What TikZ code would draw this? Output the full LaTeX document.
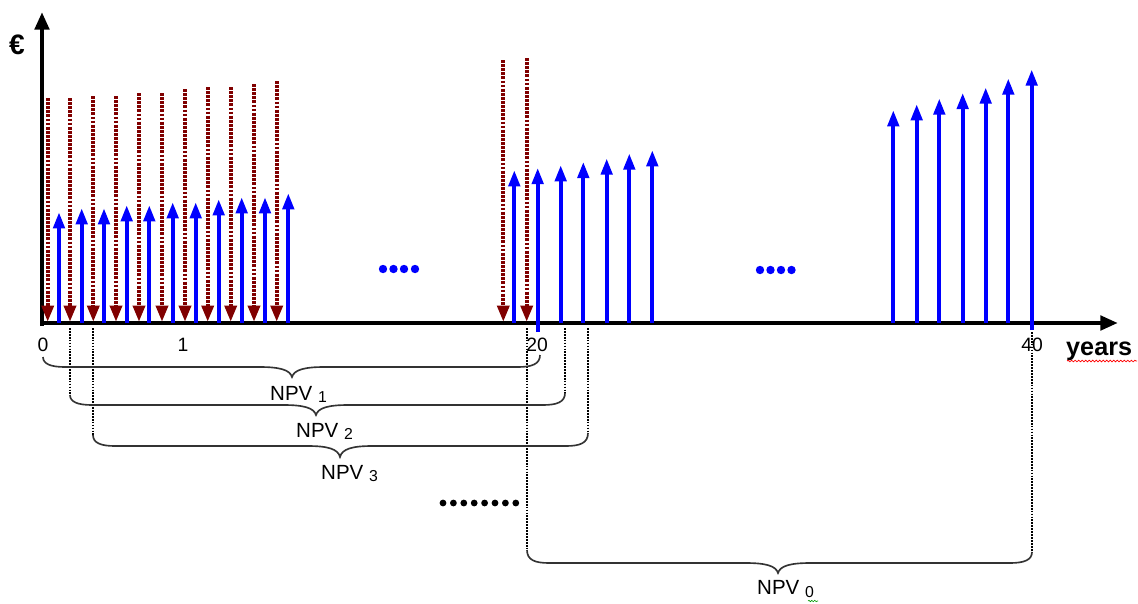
\documentclass[tikz,border=0pt]{standalone}
\usepackage{fontspec}
\setmainfont{Liberation Sans}
\usetikzlibrary{arrows.meta,decorations.pathmorphing}
\definecolor{maroonred}{HTML}{800000}
\definecolor{pureblue}{HTML}{0000FF}
\definecolor{bracegray}{HTML}{333333}
\newcommand\npvbrace[7]{%
  \draw[bracestyle] (#1,#2) .. controls (#1,#3-3) and (#1+8,#3) .. (#1+22,#3)
    -- (#4-32,#3) .. controls (#4-12,#3) and (#4-2,#3+3) .. (#4,#5)
    .. controls (#4+2,#3+3) and (#4+12,#3) .. (#4+32,#3)
    -- (#6-22,#3) .. controls (#6-8,#3) and (#6,#3-3) .. (#6,#7);}
\begin{document}
\begin{tikzpicture}[x=0.03cm,y=-0.03cm,
  axisline/.style={line width=4pt,black},
  bluearrow/.style={line width=3.5pt,pureblue,-{Triangle[length=14pt,width=9.5pt]}},
  redarrow/.style={line width=3.6pt,maroonred,dash pattern=on 2.4pt off 1.1pt,-{Triangle[length=14pt,width=10pt]}},
  guide/.style={line width=1.4pt,black,dash pattern=on 1.5pt off 1pt},
  bracestyle/.style={line width=1.4pt,bracegray},
  ticklabel/.style={inner sep=0pt,font=\fontsize{16.5}{16.5}\selectfont},
  npvlabel/.style={inner sep=0pt,anchor=base west,font=\fontsize{17.5}{17.5}\selectfont},
  bluedot/.style={pureblue,draw=none},
  blackdot/.style={black,draw=none}]
\useasboundingbox (0,0) rectangle (1138,603);

% axes
\coordinate (O) at (42,323);
\coordinate (ytop) at (42,12);
\coordinate (xend) at (1118,323);
\draw[axisline,-{Triangle[length=15pt,width=12pt]}] (42,326) -- (ytop);
\draw[axisline,-{Triangle[length=15pt,width=12pt]}] (40,323) -- (xend);
\node[inner sep=0pt,font=\bfseries\fontsize{24}{24}\selectfont] (euro) at (17,45) {€};

% guide lines (dotted verticals)
\draw[guide] (70,328) -- (70,395);
\draw[guide] (93,328) -- (93,435);
\draw[guide] (565,328) -- (565,393);
\draw[guide] (588,328) -- (588,433);
\draw[guide] (527,328) -- (527,550);
\draw[guide] (1032,332) -- (1032,552);

% red dotted down arrows
\foreach \x/\t in {47.7/98,70/98,93.3/96,116/96,139/93,162/93,185/89,207.7/87,230.7/87,254/84,276.7/81,503.3/60,526.7/58}
  \draw[redarrow] (\x,\t) -- (\x,322);

% blue up arrows
\foreach \x/\t in {59/212,81.7/208,104/208,126.7/205,149.3/205,172.7/202,195.7/202,218.7/199,241.7/197,265/197,288.3/193,514.3/170,560.7/165,583.3/161.7,606.7/158.3,629.3/153.3,652.3/150,893.3/110,916.7/104,939.3/98.3,962.7/92.7,985.7/87.3,1008.3/78.3}
  \draw[bluearrow] (\x,323) -- (\x,\t);
\draw[bluearrow] (537.7,332) -- (537.7,167.7);
\draw[bluearrow] (1031.7,330) -- (1031.7,69.3);

% tick labels
\node[ticklabel] (t0) at (43,345) {0};
\node[ticklabel] (t1) at (183,345) {1};
\node[ticklabel] (t20) at (537,345) {20};
\node[ticklabel] (t40) at (1032,345) {40};
\node[inner sep=0pt,font=\bfseries\fontsize{21.5}{21.5}\selectfont,anchor=base west] (years) at (1066,355) {years};
\draw[red,line width=0.6pt,decorate,decoration={snake,amplitude=0.7pt,segment length=3pt}] (1067,361) -- (1137,361);

% dots
\foreach \x in {383,393.5,404,415} \fill[bluedot] (\x,269) circle (4.2);
\foreach \x in {760,770.5,781,791.5} \fill[bluedot] (\x,270) circle (4.2);
\foreach \i in {0,...,7} \fill[blackdot] (443+\i*10.4,503) circle (3.4);

% braces
\npvbrace{43}{357}{367}{292}{377}{540}{355}
\npvbrace{70}{395}{405}{316}{415}{565}{393}
\npvbrace{93}{435}{446}{340}{457}{588}{433}
\npvbrace{527}{550}{563}{778}{573}{1032}{552}

% NPV labels
\node[npvlabel] (npv1) at (270,400.5) {NPV {\fontsize{13.5}{13.5}\selectfont\raisebox{-2pt}{1}}};
\node[npvlabel] (npv2) at (296,437.5) {NPV {\fontsize{13.5}{13.5}\selectfont\raisebox{-2pt}{2}}};
\node[npvlabel] (npv3) at (321,479.5) {NPV {\fontsize{13.5}{13.5}\selectfont\raisebox{-2pt}{3}}};
\node[npvlabel] (npv0) at (757,594) {NPV {\fontsize{13.5}{13.5}\selectfont\raisebox{-3pt}{0}}};
\draw[green!60!black,line width=0.5pt,decorate,decoration={snake,amplitude=0.6pt,segment length=2.5pt}] (808,601) -- (818,601);
\end{tikzpicture}
\end{document}
